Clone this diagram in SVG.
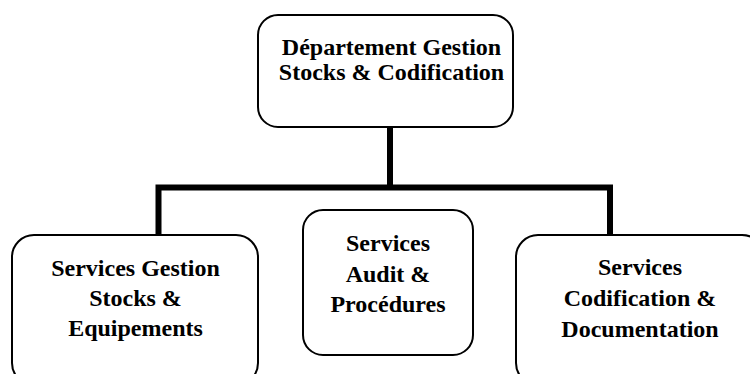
<svg xmlns="http://www.w3.org/2000/svg" width="750" height="374" viewBox="0 0 750 374">
  <style>
    .box { fill: #ffffff; stroke: #000000; stroke-width: 2; }
    .lbl { font-family: 'Liberation Serif', 'Times New Roman', serif; font-weight: 700; font-size: 24px; fill: #000000; text-anchor: middle; }
    .link { fill: none; stroke: #000000; stroke-width: 6; stroke-linecap: butt; stroke-linejoin: miter; }
  </style>
  <rect width="750" height="374" fill="#ffffff"/>

  <!-- connectors -->
  <g id="connectors">
    <path class="link" d="M390 127 V187.5"/>
    <path class="link" d="M158.5 235 V187.5 H610 V235"/>
  </g>

  <g id="dept">
    <rect class="box" x="258" y="15" width="255" height="112" rx="20" ry="20"/>
    <text class="lbl" x="391.5" y="55">Département Gestion</text>
    <text class="lbl" x="391.5" y="80">Stocks &amp; Codification</text>
  </g>

  <g id="svc-gestion">
    <rect class="box" x="12" y="235" width="246" height="150" rx="22" ry="22"/>
    <text class="lbl" x="135.5" y="276">Services Gestion</text>
    <text class="lbl" x="135.5" y="306">Stocks &amp;</text>
    <text class="lbl" x="135.5" y="336">Equipements</text>
  </g>

  <g id="svc-audit">
    <rect class="box" x="303" y="210" width="170" height="145" rx="20" ry="20"/>
    <text class="lbl" x="388" y="251">Services</text>
    <text class="lbl" x="388" y="282">Audit &amp;</text>
    <text class="lbl" x="388" y="312">Procédures</text>
  </g>

  <g id="svc-codif">
    <rect class="box" x="516" y="235" width="248" height="150" rx="22" ry="22"/>
    <text class="lbl" x="640" y="275">Services</text>
    <text class="lbl" x="640" y="306">Codification &amp;</text>
    <text class="lbl" x="640" y="337">Documentation</text>
  </g>
</svg>
